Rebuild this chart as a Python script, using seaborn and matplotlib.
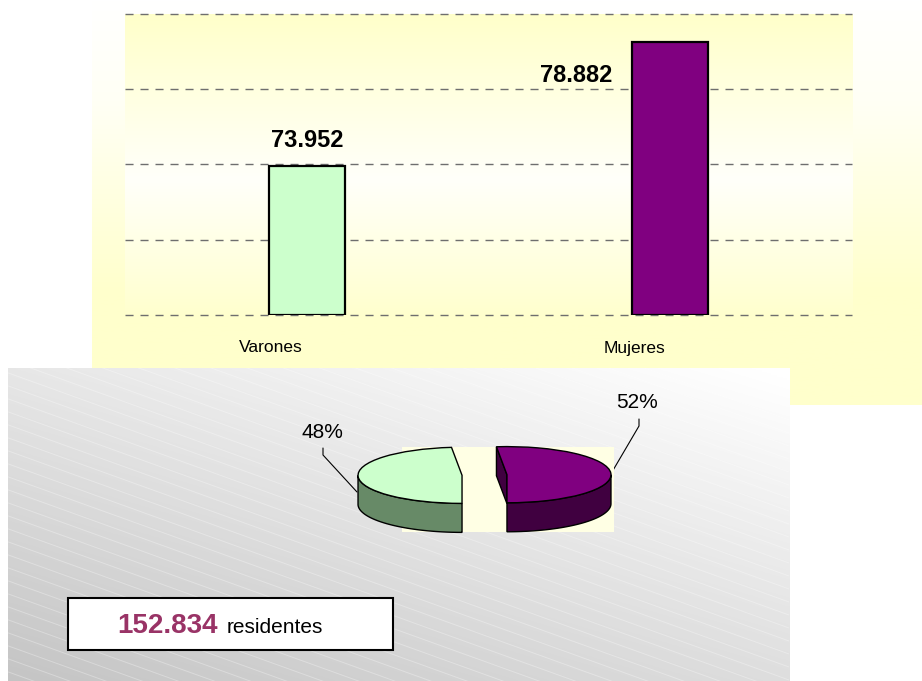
import numpy as np
import pandas as pd
import matplotlib
matplotlib.use('Agg')
import matplotlib.pyplot as plt
import seaborn as sns
from matplotlib.patches import Rectangle, Polygon
from matplotlib.collections import LineCollection
from matplotlib.transforms import Affine2D
from matplotlib.colors import to_rgb

# ---------------- data ----------------
categories = ['Varones', 'Mujeres']
residents = [73952, 78882]
bar_colors = ['#CCFFCC', '#800080']
pie_side_colors = ['#678A67', '#400040']
y_ticks = [68000, 71000, 74000, 77000, 80000]
total_suffix = 'residentes'


def es_num(n):
    return f'{n:,}'.replace(',', '.')


W, H = 922, 681
sns.set_theme(style='white')
plt.rcParams['font.family'] = ['Liberation Sans', 'DejaVu Sans']
plt.rcParams['lines.scale_dashes'] = False
plt.rcParams['text.color'] = 'black'

fig = plt.figure(figsize=(W / 100, H / 100), dpi=100)
fig.patch.set_facecolor('white')


def rect(x0, y0, x1, y1):
    return [x0 / W, 1 - y1 / H, (x1 - x0) / W, (y1 - y0) / H]


def vgrad(stops, n=300):
    t = np.linspace(0, 1, n)
    ts = [s[0] for s in stops]
    cols = np.array([to_rgb(s[1]) for s in stops])
    arr = np.stack([np.interp(t, ts, cols[:, c]) for c in range(3)], axis=-1)
    return arr[:, None, :]


# ---------------- background layer (pixel coordinates) ----------------
bg = fig.add_axes([0, 0, 1, 1])
bg.set_xlim(0, W)
bg.set_ylim(H, 0)
bg.axis('off')

# chart area (light yellow gradient)
bg.imshow(vgrad([(0, '#FFFFFF'), (0.25, '#FFFFF5'), (0.72, '#FFFFCC'), (1, '#FFFFCC')]),
          extent=(92, 922, 405, 0), aspect='auto', origin='upper', zorder=0)
# plot area (yellow - white - yellow)
bg.imshow(vgrad([(0, '#FFFFCA'), (0.55, '#FFFFFA'), (1, '#FFFFCE')]),
          extent=(125, 852, 315, 14), aspect='auto', origin='upper', zorder=1)

# gray panel with diagonal gradient
px0, py0, px1, py1 = 8, 368, 789, 681
nx, ny = 400, 200
fx = np.linspace(0, 1, nx)[None, :]
fy = np.linspace(0, 1, ny)[:, None]
val = np.clip(0.905 + 0.10 * fx - 0.135 * fy, 0, 1)
gray = np.repeat(val[:, :, None], 3, axis=2)
bg.imshow(gray, extent=(px0, px1, py1, py0), aspect='auto', origin='upper', zorder=2)

slope = 0.36
lines = []
for y0 in np.arange(py0 - slope * (px1 - px0), py1 + 5, 13):
    lines.append([(px0, y0), (px1, y0 + slope * (px1 - px0))])
lc = LineCollection(lines, colors='white', linewidths=0.7, alpha=0.3, zorder=3)
clip = Rectangle((px0, py0), px1 - px0, py1 - py0, transform=bg.transData)
bg.add_collection(lc)
lc.set_clip_path(clip)

# total box
bg.add_patch(Rectangle((68, 598), 325, 52, facecolor='white', edgecolor='black',
                       linewidth=1.5, zorder=4))
total = sum(residents)
bg.text(117, 633, es_num(total), color='#993366', fontsize=20, fontweight='bold',
        ha='left', va='baseline', zorder=5)
bg.text(227, 633, total_suffix, color='black', fontsize=15, ha='left', va='baseline', zorder=5)

# pie percentage labels with leader lines
pct = [f'{round(100 * v / total)}%' for v in residents]
bg.text(322, 432, pct[0], fontsize=15, ha='center', va='center', color='black', zorder=5)
bg.text(637, 402, pct[1], fontsize=15, ha='center', va='center', color='black', zorder=5)
bg.plot([323, 323, 357], [448, 455, 492], color='black', lw=0.8, zorder=5)
bg.plot([639, 639, 612], [419, 426, 472], color='black', lw=0.8, zorder=5)

# ---------------- bar chart ----------------
ax = fig.add_axes(rect(125, 14, 852, 315))
ax.patch.set_alpha(0)
df = pd.DataFrame({'categoria': categories, 'residentes': residents})
sns.barplot(data=df, x='categoria', y='residentes', hue='categoria', palette=bar_colors,
            saturation=1, width=0.21, edgecolor='black', linewidth=1.6, legend=False,
            ax=ax, zorder=3)
for p in ax.patches:
    h = p.get_height()
    p.set_y(y_ticks[0])
    p.set_height(h - y_ticks[0])
ax.set_ylim(y_ticks[0], y_ticks[-1])
ax.set_xlim(-0.5, 1.5)
for yt in y_ticks:
    ax.axhline(yt, color='#6E6E6E', linestyle=(0, (5.8, 5.0)), linewidth=1.0,
               clip_on=False, zorder=1)
ax.set_yticks([])
ax.set_xticks([])
ax.set_xlabel('')
ax.set_ylabel('')
ax.grid(False)
for s in ax.spines.values():
    s.set_visible(False)

value_offsets = [(0, 25), (-94, -33)]
for i, (v, off) in enumerate(zip(residents, value_offsets)):
    ax.annotate(es_num(v), xy=(i, v), xytext=off, textcoords='offset pixels',
                ha='center', va='center', fontsize=17, fontweight='bold', color='black',
                annotation_clip=False, zorder=5)
for i, c in enumerate(categories):
    ax.annotate(c, xy=(i, y_ticks[0]), xytext=(-36, -33), textcoords='offset pixels',
                ha='center', va='center', fontsize=12.5, color='black',
                annotation_clip=False)

# ---------------- 3D pie ----------------
R = 104.0
k = 0.27
depth = 29 / R
cxp, cyp = 484.5, 475
bx0, by0, bx1, by1 = 402, 447, 614, 532
axp = fig.add_axes(rect(bx0, by0, bx1, by1))
axp.set_facecolor('#FFFFE4')
wedges, _ = axp.pie(residents, colors=bar_colors, startangle=-90, counterclock=False,
                    explode=[22.5 / R, 22.5 / R], frame=True,
                    wedgeprops=dict(edgecolor='black', linewidth=1.0, zorder=4))
squash = Affine2D().scale(1, k) + axp.transData
for w in wedges:
    w.set_transform(squash)
    w.set_clip_on(False)

for w, sc in zip(wedges, pie_side_colors):
    cx, cy = w.center
    t1, t2 = w.theta1, w.theta2
    # side wall (front part of the rim)
    t = np.radians(np.linspace(t1, t2, 500))
    front = np.sin(t) <= 1e-9
    idx = np.where(front)[0]
    if len(idx):
        runs = np.split(idx, np.where(np.diff(idx) > 1)[0] + 1)
        for r in runs:
            tt = t[r]
            xs = cx + np.cos(tt)
            ys = k * (cy + np.sin(tt))
            pts = np.concatenate([np.column_stack([xs, ys]),
                                  np.column_stack([xs[::-1], ys[::-1] - depth])])
            axp.add_patch(Polygon(pts, closed=True, facecolor=sc, edgecolor='black',
                                  linewidth=1.0, zorder=2, clip_on=False))
    # cut faces
    for a, nrm in ((t1, t1 - 90), (t2, t2 + 90)):
        if np.sin(np.radians(nrm)) < -0.02:
            ar = np.radians(a)
            pts = [(cx, k * cy), (cx + np.cos(ar), k * (cy + np.sin(ar))),
                   (cx + np.cos(ar), k * (cy + np.sin(ar)) - depth), (cx, k * cy - depth)]
            axp.add_patch(Polygon(pts, closed=True, facecolor=sc, edgecolor='black',
                                  linewidth=1.0, zorder=2, clip_on=False))

axp.set_aspect('auto')
axp.set_xlim((bx0 - cxp) / R, (bx1 - cxp) / R)
axp.set_ylim(-(by1 - cyp) / R, (cyp - by0) / R)
axp.set_xticks([])
axp.set_yticks([])
for s in axp.spines.values():
    s.set_visible(False)

fig.savefig('out.png', dpi=100)
